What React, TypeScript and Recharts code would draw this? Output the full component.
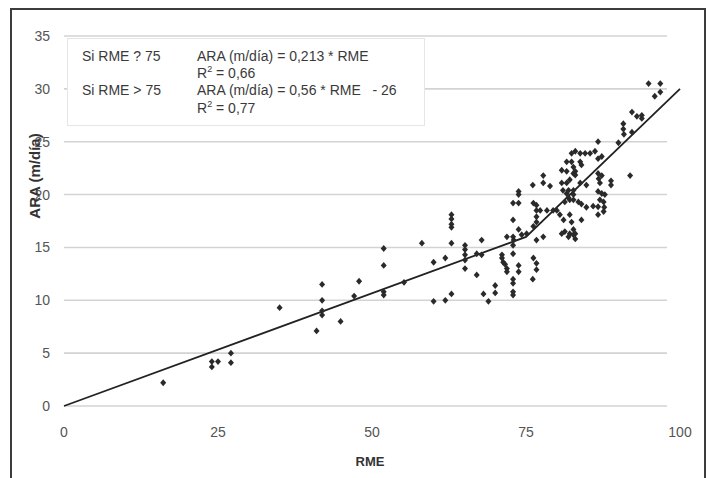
import React from 'react';
import { ScatterChart, Scatter, XAxis, YAxis, CartesianGrid } from 'recharts';

const rmeValues = [
  16.1, 24.0, 25.0, 24.0, 27.1, 27.1, 35.0, 41.9, 41.9, 41.9, 41.9, 41.0, 44.9, 47.9, 47.1,
  51.9, 51.9, 51.9, 51.9, 55.2, 58.1, 60.0, 61.9, 60.0, 61.9, 62.9, 62.9, 62.9, 62.9, 62.9,
  62.9, 65.1, 65.1, 65.1, 65.1, 65.1, 67.8, 67.0, 67.8, 67.0, 68.1, 68.9, 70.0, 70.0, 71.1,
  71.1, 71.3, 71.6, 71.9, 71.9, 72.9, 72.9, 72.9, 72.9, 72.9, 72.9, 73.8, 73.8, 76.2, 76.7,
  76.7, 76.1, 71.9, 72.9, 74.3, 75.1, 76.7, 77.8, 73.8, 76.2, 72.9, 73.0, 73.8, 73.8, 72.9,
  73.8, 76.2, 76.7, 76.7, 77.3, 78.4, 79.4, 80.0, 76.7, 76.7, 76.1, 77.8, 77.8, 78.9, 80.5,
  81.1, 82.1, 82.4, 81.3, 82.1, 82.7, 82.7, 80.8, 81.9, 83.0, 84.0, 81.6, 82.7, 82.7, 81.9,
  81.3, 82.1, 83.5, 84.0, 84.8, 85.9, 86.7, 80.8, 81.6, 81.0, 81.9, 82.7, 82.1, 83.8, 84.8,
  82.4, 83.0, 81.6, 82.4, 82.7, 80.8, 81.6, 82.7, 83.0, 83.0, 83.8, 84.6, 85.4, 86.2, 83.8,
  84.0, 86.7, 86.7, 87.3, 86.7, 87.3, 86.8, 87.0, 88.8, 88.8, 86.7, 87.3, 87.8, 87.0, 87.6,
  87.7, 87.6, 86.7, 90.0, 90.8, 90.8, 90.9, 92.2, 92.2, 93.0, 93.8, 93.8, 94.9, 96.8, 95.9,
  96.8, 91.9, 83.0,
];

const araValues = [
  2.2, 4.2, 4.2, 3.7, 5.0, 4.1, 9.3, 11.5, 10.0, 9.0, 8.6, 7.1, 8.0, 11.8, 10.4,
  14.9, 13.3, 10.8, 10.5, 11.7, 15.4, 13.6, 14.0, 9.9, 10.0, 10.6, 18.1, 17.7, 17.2, 16.9,
  15.4, 15.2, 14.8, 14.3, 13.8, 13.0, 15.7, 14.4, 14.3, 12.4, 10.6, 9.9, 11.4, 10.7, 14.3,
  14.0, 13.6, 13.4, 13.0, 12.7, 15.2, 14.4, 12.0, 11.6, 10.8, 10.5, 13.3, 12.7, 14.0, 13.5,
  12.9, 12.0, 16.0, 16.0, 16.2, 16.3, 15.7, 16.0, 16.7, 17.0, 17.6, 15.7, 20.3, 20.0, 19.2,
  19.2, 19.2, 19.0, 18.5, 18.5, 18.5, 18.5, 18.5, 17.9, 17.4, 20.9, 21.8, 21.1, 20.8, 18.1,
  17.6, 18.1, 17.4, 16.5, 16.3, 16.7, 16.2, 16.3, 16.0, 16.3, 17.6, 20.1, 20.0, 19.5, 19.7,
  19.3, 19.5, 19.3, 19.1, 18.8, 18.9, 18.85, 21.1, 21.1, 20.4, 20.4, 20.4, 21.4, 21.1, 20.9,
  23.9, 24.1, 23.1, 23.1, 22.6, 22.3, 22.2, 22.0, 22.2, 21.85, 23.9, 23.9, 23.9, 24.1, 23.1,
  22.8, 25.0, 23.4, 23.6, 22.0, 21.8, 21.5, 21.1, 21.3, 20.9, 20.3, 20.1, 20.0, 19.5, 19.3,
  18.8, 18.4, 18.1, 24.9, 26.7, 26.2, 25.7, 25.9, 27.8, 27.4, 27.5, 27.2, 30.5, 30.5, 29.3,
  29.7, 21.8, 15.8,
];

const trendRME = [0, 75, 100];
const trendARA = [0, 16, 30];

const xTicks = [0, 25, 50, 75, 100];
const yTicks = [0, 5, 10, 15, 20, 25, 30, 35];

const points = rmeValues.map((x, i) => ({ x, y: araValues[i] }));
const trend = trendRME.map((x, i) => ({ x, y: trendARA[i] }));

const FONT = "'Liberation Sans', Arial, sans-serif";

const Marker = (props: any) => {
  const { cx, cy } = props;
  if (cx == null || cy == null) return <g />;
  return (
    <polygon
      points={`${cx},${cy - 3.4} ${cx + 3},${cy} ${cx},${cy + 3.4} ${cx - 3},${cy}`}
      fill="#2a2a2a"
    />
  );
};

const GridLine = (props: any) => (
  <line
    x1={props.x1}
    y1={props.y1}
    x2={props.x2 - 13}
    y2={props.y2}
    stroke="#d3d3d3"
    strokeWidth={1.6}
  />
);

const Sup = ({ children }: any) => (
  <span style={{ fontSize: 9, position: 'relative', top: -6 }}>{children}</span>
);

export default function App() {
  const line = (top: number, left: number, content: any) => (
    <div
      style={{
        position: 'absolute',
        top,
        left,
        fontSize: 14,
        lineHeight: '16px',
        whiteSpace: 'pre',
        color: '#3a3a3a',
        fontFamily: FONT,
      }}
    >
      {content}
    </div>
  );

  return (
    <div style={{ position: 'absolute', left: 0, top: 0, width: 714, height: 478, overflow: 'hidden', background: '#fff' }}>
      <div
        style={{
          position: 'absolute',
          left: 10,
          top: 8,
          width: 696,
          height: 480,
          boxSizing: 'border-box',
          borderLeft: '2px solid #3c3c3c',
          borderTop: '2px solid #3c3c3c',
          borderRight: '2px solid #3c3c3c',
        }}
      />
      <div style={{ position: 'absolute', left: 0, top: 0 }}>
        <ScatterChart width={714} height={478} margin={{ top: 36, right: 34, bottom: 12, left: 0 }}>
          <CartesianGrid vertical={false} horizontal={GridLine as any} />
          <XAxis
            type="number"
            dataKey="x"
            domain={[0, 100]}
            ticks={xTicks}
            axisLine={false}
            tickLine={false}
            tickSize={0}
            tickMargin={21}
            height={60}
            tick={{ fill: '#555', fontSize: 14, fontFamily: FONT }}
            label={{
              content: () => (
                <text x={370} y={466} textAnchor="middle" fontWeight="bold" fontSize={13} fill="#333" fontFamily={FONT}>
                  RME
                </text>
              ),
            }}
          />
          <YAxis
            type="number"
            dataKey="y"
            domain={[0, 35]}
            ticks={yTicks}
            axisLine={false}
            tickLine={false}
            tickSize={0}
            tickMargin={14}
            width={64}
            tick={{ fill: '#555', fontSize: 14, fontFamily: FONT }}
            label={{
              content: () => (
                <text
                  x={34}
                  y={176}
                  transform="rotate(-90 34 176)"
                  textAnchor="middle"
                  dominantBaseline="central"
                  fontWeight="bold"
                  fontSize={15}
                  fill="#333"
                  fontFamily={FONT}
                >
                  ARA (m/día)
                </text>
              ),
            }}
          />
          <Scatter
            data={trend}
            isAnimationActive={false}
            line={{ stroke: '#222', strokeWidth: 1.8 }}
            shape={() => <g />}
            legendType="none"
          />
          <Scatter data={points} isAnimationActive={false} shape={Marker} legendType="none" />
        </ScatterChart>
      </div>
      <div
        style={{
          position: 'absolute',
          left: 67,
          top: 38,
          width: 358,
          height: 88,
          boxSizing: 'border-box',
          background: '#fff',
          border: '1px solid #e6e6e6',
        }}
      >
        {line(9, 14, 'Si RME ? 75')}
        {line(9, 129, 'ARA (m/día) = 0,213 * RME')}
        {line(26, 129, <>R<Sup>2</Sup> = 0,66</>)}
        {line(43, 14, 'Si RME > 75')}
        {line(43, 129, 'ARA (m/día) = 0,56 * RME   - 26')}
        {line(61, 129, <>R<Sup>2</Sup> = 0,77</>)}
      </div>
    </div>
  );
}
